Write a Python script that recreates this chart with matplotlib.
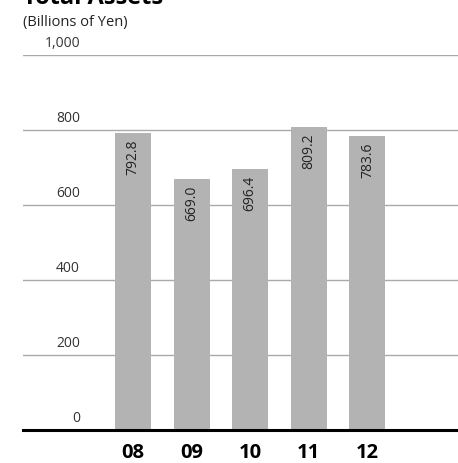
import matplotlib.pyplot as plt

plt.rcParams['font.family'] = ['Open Sans', 'DejaVu Sans']

years = ['08', '09', '10', '11', '12']
total_assets = [792.8, 669.0, 696.4, 809.2, 783.6]
y_ticks = [0, 200, 400, 600, 800, 1000]
y_tick_labels = ['0', '200', '400', '600', '800', '1,000']

fig = plt.figure(figsize=(4.58, 4.63), dpi=100)
ax = fig.add_axes([23 / 458, 33 / 463, 435 / 458, 375 / 463])

x = list(range(len(years)))
ax.set_xlim(-1.877, 5.546)
ax.set_ylim(0, 1000)

# gridlines behind bars
for t in y_ticks[1:]:
    ax.axhline(t, color='#aaaaaa', lw=1.0, zorder=1)
ax.axhline(0, color='black', lw=2.2, zorder=4, clip_on=False)

ax.bar(x, total_assets, width=0.614, color='#b3b3b3', zorder=2)

for xi, v in zip(x, total_assets):
    ax.annotate(f'{v:.1f}', (xi, v), xytext=(0, -5), textcoords='offset points',
                rotation=90, ha='center', va='top', fontsize=10, color='#222222', zorder=5)

for t, lab in zip(y_ticks, y_tick_labels):
    ax.annotate(lab, (-0.904, t), xytext=(0, 3), textcoords='offset points',
                ha='right', va='bottom', fontsize=10, color='#333333')

ax.set_xticks(x)
ax.set_xticklabels(years, fontsize=14.5, fontweight='bold')
ax.tick_params(axis='x', length=0, pad=9)
ax.set_yticks([])
for s in ax.spines.values():
    s.set_visible(False)

# title is cropped at the top edge in the reference
fig.text(23 / 458, 1 - 4 / 463, 'Total Assets', fontsize=17, fontweight='bold', va='baseline', ha='left')
fig.text(23 / 458, 1 - 26 / 463, '(Billions of Yen)', fontsize=10.5, va='baseline', ha='left', color='#222222')

fig.savefig('out.png', dpi=100)
